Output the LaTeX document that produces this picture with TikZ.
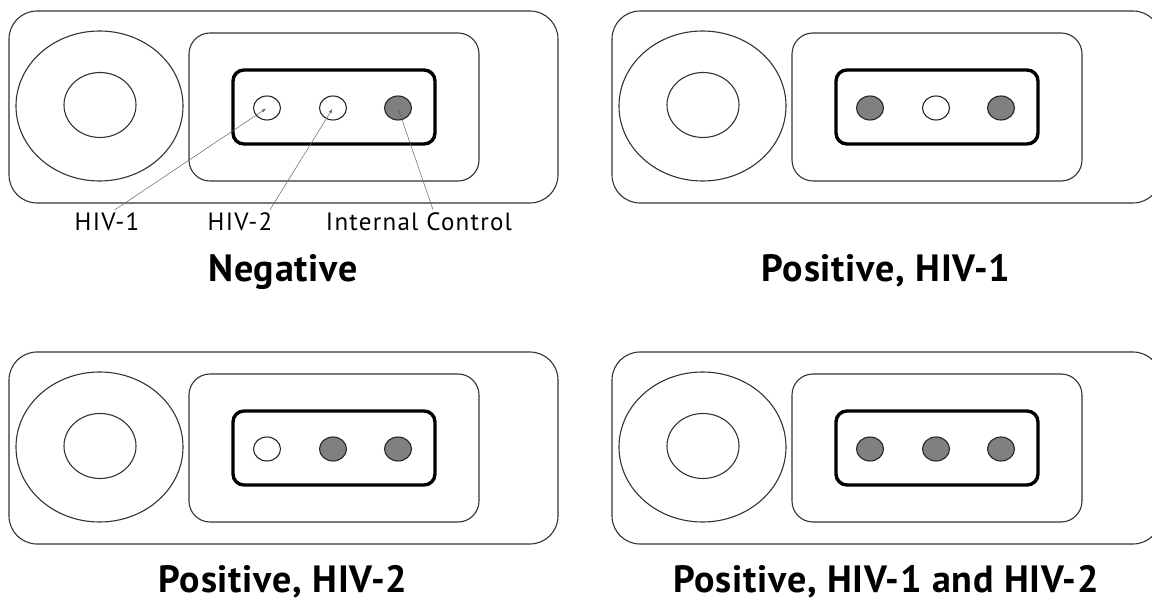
\documentclass[tikz,border=0pt]{standalone}
\usepackage{fontspec}
\setmainfont{PT Sans}
\usetikzlibrary{shapes.geometric}

\begin{document}
\begin{tikzpicture}[x=1pt,y=-1pt]
	\tikzstyle{frame}=[draw=black!80, line width=1.1pt]
	\tikzstyle{window}=[draw=black, line width=3.4pt, rounded corners=11pt]
	\tikzstyle{spot}=[ellipse, draw=black!85, line width=1.1pt, minimum width=27pt, minimum height=24pt, inner sep=0pt]
	\tikzstyle{blank}=[spot, fill=white]
	\tikzstyle{lit}=[spot, fill=black!50]
	\tikzstyle{tag}=[font=\fontsize{25}{25}\selectfont\addfontfeature{LetterSpace=5}, anchor=base]
	\tikzstyle{result}=[font=\bfseries\fontsize{38}{38}\selectfont\addfontfeature{LetterSpace=2}, anchor=base]
	\tikzstyle{connect}=[-latex, black!60, line width=0.5pt, shorten >=1pt]
	\useasboundingbox (0,0) rectangle (1152,601);
	\clip (0,0) rectangle (1152,601);
	% one cassette per result
	\foreach \name/\ox/\oy/\sa/\sb/\sc/\ty/\res in {n/0/0/blank/blank/lit/282/Negative,
		p1/603/0/lit/blank/lit/282/{Positive, HIV-1},
		p2/0/341/blank/lit/lit/592/{Positive, HIV-2},
		p12/603/341/lit/lit/lit/592/{Positive, HIV-1 and HIV-2}} {
		\begin{scope}[shift={(\ox,\oy)}]
			\draw[frame, rounded corners=28pt] (9,11) rectangle (558,203);
			\draw[frame] (99.5,106) ellipse [x radius=83.5pt, y radius=75pt];
			\draw[frame] (100,105) ellipse [x radius=36pt, y radius=32.5pt];
			\draw[frame, rounded corners=21pt] (189,33) rectangle (479,181);
			\draw[window] (233,70) rectangle (435,144);
			\node[\sa] (\name-a) at (267,108) {};
			\node[\sb] (\name-b) at (333,108) {};
			\node[\sc] (\name-c) at (398,108) {};
		\end{scope}
		\node[result] (\name-res) at (\ox+283,\ty) {\res};
	}
	\node[tag] (hiv1) at (107,231) {HIV-1};
	\node[tag] (hiv2) at (240,231) {HIV-2};
	\node[tag] (ctrl) at (419,231) {Internal Control};
	\path ([xshift=8pt]hiv1.north) edge[connect] (n-a.center)
		([xshift=30pt]hiv2.north) edge[connect] (n-b.center)
		([xshift=14pt]ctrl.north) edge[connect] (n-c.center);
\end{tikzpicture}
\end{document}
